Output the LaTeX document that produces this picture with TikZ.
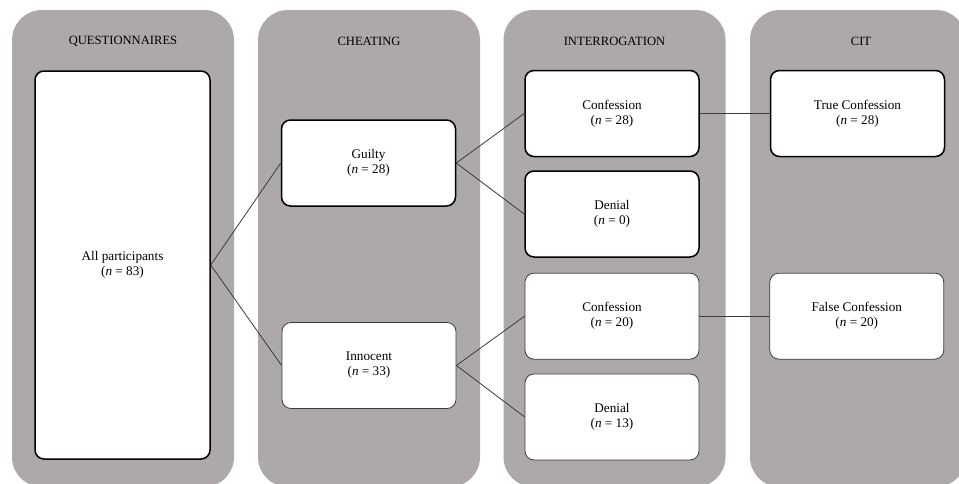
\documentclass[tikz,border=0pt]{standalone}
\usepackage{fontspec}
\setmainfont{Liberation Serif}
\usepackage{tikz}
\usetikzlibrary{positioning}
\definecolor{colgray}{RGB}{172,169,168}
\definecolor{linegray}{RGB}{60,60,60}
\tikzset{
    every node/.style={font=\fontsize{13.2}{15}\selectfont},
    column/.style={fill=colgray,rounded corners=30pt,minimum width=222pt,minimum height=477pt,inner sep=0pt},
    title node/.style={font=\fontsize{12.6}{15}\selectfont},
    main box/.style={draw=black,fill=white,line width=1.5pt,rounded corners=9pt,align=center,minimum width=174pt,minimum height=86pt,inner sep=0pt},
    thin box/.style={main box,draw=linegray,line width=0.8pt}
}

\begin{document}
\begin{tikzpicture}[x=1pt,y=-1pt,line width=0.8pt]

    \useasboundingbox (0,0) rectangle (959,483);
    \begin{scope}
    \clip (0,0) rectangle (959,483);
    \node[column] (c1) at (123,248.5) {};
    \node[column] (c2) at (369,248.5) {};
    \node[column] (c3) at (614.5,248.5) {};
    \node[column,minimum width=216pt] (c4) at (858,248.5) {};
    \end{scope}

    \node[title node] (t1) at (123,41) {QUESTIONNAIRES};
    \node[title node] (t2) at (369,41) {CHEATING};
    \node[title node] (t3) at (614.5,41) {INTERROGATION};
    \node[title node] (t4) at (861,41) {CIT};

    \node[main box,minimum width=175pt,minimum height=388pt] (all) at (122.5,265) {All participants\\(\textit{n} = 83)};

    \node[main box] (guilty) at (368.5,163) {Guilty\\(\textit{n} = 28)};
    \node[thin box] (innocent) at (369,365.5) {Innocent\\(\textit{n} = 33)};

    \node[main box] (conf1) at (612,113.5) {Confession\\(\textit{n} = 28)};
    \node[main box] (den1) [below=13pt of conf1] {Denial\\(\textit{n} = 0)};
    \node[thin box] (conf2) [below=15pt of den1] {Confession\\(\textit{n} = 20)};
    \node[thin box] (den2) [below=14pt of conf2] {Denial\\(\textit{n} = 13)};

    \node[main box] (true) [right=70pt of conf1] {True Confession\\(\textit{n} = 28)};
    \node[thin box] (false) [right=70pt of conf2] {False Confession\\(\textit{n} = 20)};

    \draw[linegray] (all.east) -- (guilty.west);
    \draw[linegray] (all.east) -- (innocent.west);
    \draw[linegray] (guilty.east) -- (conf1.west);
    \draw[linegray] (guilty.east) -- (den1.west);
    \draw[linegray] (innocent.east) -- (conf2.west);
    \draw[linegray] (innocent.east) -- (den2.west);
    \draw[linegray] (conf1.east) -- (true.west);
    \draw[linegray] (conf2.east) -- (false.west);

\end{tikzpicture}
\end{document}
